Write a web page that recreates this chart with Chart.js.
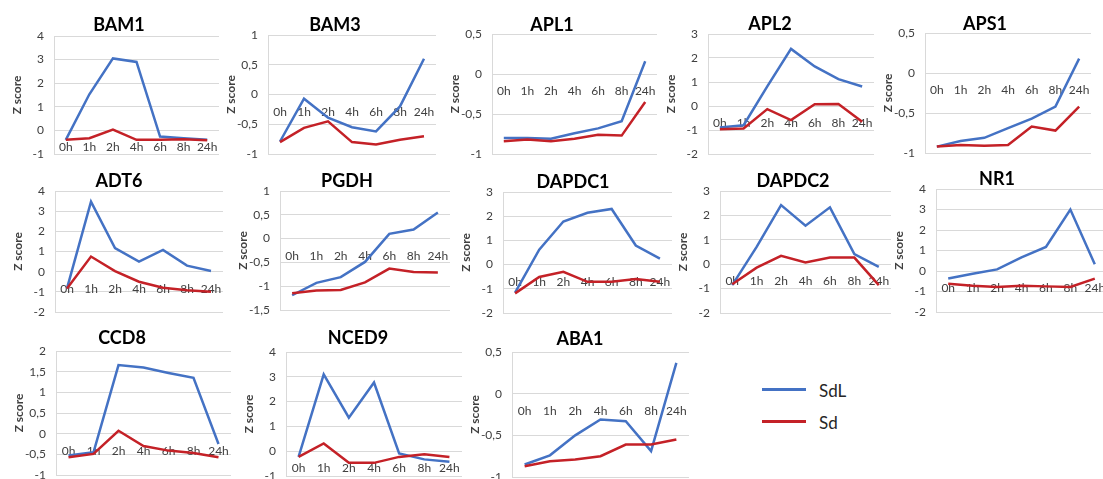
<!DOCTYPE html>
<html>
<head>
<meta charset="utf-8">
<script src="https://cdn.jsdelivr.net/npm/chart.js@4.4.0/dist/chart.umd.min.js"></script>
<style>
  html, body { margin: 0; padding: 0; background: #fff; }
  body { position: relative; width: 1103px; height: 479px; overflow: hidden; font-family: Lato, "Open Sans", sans-serif; }
  canvas.panel { position: absolute; }
  .ttl { position: absolute; transform: translate(-50%, -50%); font-weight: bold; font-size: 18px; color: #000; white-space: nowrap; }
  .key { position: absolute; height: 3px; width: 44px; }
  .keytxt { position: absolute; transform: translateY(-50%); font-size: 17px; color: #262626; }
</style>
</head>
<body>
<script>
// Sampling times (x categories)
const timePoints = ['0h', '1h', '2h', '4h', '6h', '8h', '24h'];

// Z scores per gene: SdL (blue) and Sd (red)
const BAM1_SdL   = [-0.40, 1.53, 3.05, 2.90, -0.26, -0.33, -0.40];
const BAM1_Sd    = [-0.40, -0.33, 0.03, -0.40, -0.40, -0.38, -0.42];
const BAM3_SdL   = [-0.79, -0.07, -0.39, -0.55, -0.62, -0.20, 0.60];
const BAM3_Sd    = [-0.80, -0.56, -0.45, -0.80, -0.84, -0.76, -0.70];
const APL1_SdL   = [-0.80, -0.80, -0.81, -0.74, -0.68, -0.59, 0.16];
const APL1_Sd    = [-0.84, -0.82, -0.84, -0.81, -0.76, -0.77, -0.35];
const APL2_SdL   = [-0.90, -0.80, 0.82, 2.38, 1.65, 1.12, 0.81];
const APL2_Sd    = [-0.97, -0.94, -0.13, -0.59, 0.07, 0.08, -0.66];
const APS1_SdL   = [-0.92, -0.85, -0.81, -0.69, -0.57, -0.42, 0.18];
const APS1_Sd    = [-0.92, -0.90, -0.91, -0.90, -0.67, -0.72, -0.42];
const ADT6_SdL   = [-0.83, 3.47, 1.17, 0.50, 1.08, 0.30, 0.03];
const ADT6_Sd    = [-0.83, 0.75, 0.03, -0.50, -0.80, -0.92, -1.00];
const PGDH_SdL   = [-1.19, -0.93, -0.81, -0.49, 0.10, 0.19, 0.55];
const PGDH_Sd    = [-1.15, -1.09, -1.08, -0.92, -0.63, -0.70, -0.71];
const DAPDC1_SdL = [-1.16, 0.62, 1.78, 2.14, 2.30, 0.79, 0.25];
const DAPDC1_Sd  = [-1.19, -0.51, -0.30, -0.71, -0.71, -0.60, -0.71];
const DAPDC2_SdL = [-0.86, 0.71, 2.42, 1.58, 2.33, 0.41, -0.11];
const DAPDC2_Sd  = [-0.82, -0.14, 0.34, 0.07, 0.27, 0.27, -0.86];
const NR1_SdL    = [-0.37, -0.13, 0.08, 0.67, 1.17, 3.00, 0.33];
const NR1_Sd     = [-0.62, -0.72, -0.78, -0.72, -0.75, -0.78, -0.37];
const CCD8_SdL   = [-0.53, -0.45, 1.66, 1.60, 1.47, 1.35, -0.25];
const CCD8_Sd    = [-0.57, -0.49, 0.07, -0.30, -0.41, -0.47, -0.57];
const NCED9_SdL  = [-0.23, 3.10, 1.35, 2.77, -0.09, -0.33, -0.43];
const NCED9_Sd   = [-0.23, 0.31, -0.47, -0.47, -0.23, -0.12, -0.23];
const ABA1_SdL   = [-0.85, -0.74, -0.50, -0.31, -0.33, -0.69, 0.37];
const ABA1_Sd    = [-0.87, -0.81, -0.79, -0.75, -0.61, -0.61, -0.55];

const geneNames = ['BAM1', 'BAM3', 'APL1', 'APL2', 'APS1', 'ADT6', 'PGDH', 'DAPDC1', 'DAPDC2', 'NR1', 'CCD8', 'NCED9', 'ABA1'];
const sdlSeries = [BAM1_SdL, BAM3_SdL, APL1_SdL, APL2_SdL, APS1_SdL, ADT6_SdL, PGDH_SdL, DAPDC1_SdL, DAPDC2_SdL, NR1_SdL, CCD8_SdL, NCED9_SdL, ABA1_SdL];
const sdSeries  = [BAM1_Sd, BAM3_Sd, APL1_Sd, APL2_Sd, APS1_Sd, ADT6_Sd, PGDH_Sd, DAPDC1_Sd, DAPDC2_Sd, NR1_Sd, CCD8_Sd, NCED9_Sd, ABA1_Sd];

// Y axis ticks per gene
const yMin  = [-1, -1, -1, -2, -1, -2, -1.5, -2, -2, -2, -1, -1, -1];
const yMax  = [4, 1, 0.5, 3, 0.5, 4, 1, 3, 3, 4, 2, 4, 0.5];
const yStep = [1, 0.5, 0.5, 1, 0.5, 1, 0.5, 1, 1, 1, 0.5, 1, 0.5];

const seriesNames = ['SdL', 'Sd'];

// Plot-area boxes [left, top, right, bottom] and title centres
const plotBoxes = [
  [54, 36, 219, 154], [268, 35, 436, 154], [492, 34, 657, 154], [708, 34, 874, 154], [925, 33, 1091, 153],
  [55, 191, 223, 312], [280, 191, 450, 310], [503, 192, 672, 313], [720, 191, 891, 313], [936, 189, 1107, 312],
  [56, 351, 231, 475], [286, 352, 462, 476], [512, 352, 689, 477]
];
const titleCentres = [
  [119, 24], [335, 24], [552, 24], [770, 23], [985, 23],
  [119, 180], [347, 180], [573, 181], [793, 180], [997, 178],
  [122, 337], [358, 337], [580, 338]
];

const BLUE = '#4472C4';
const RED = '#C42127';
const GRID = '#D9D9D9';
const TICK = '#404040';
const FONT = 'Lato, "Open Sans", sans-serif';
const AXIS_W = 50;   // width reserved for y tick labels and axis title
const PAD_V = 22;    // canvas margin above/below the plot area
const PAD_R = 12;    // canvas margin right of the plot area

Chart.defaults.font.family = FONT;

geneNames.forEach((name, i) => {
  const [l, t, r, b] = plotBoxes[i];
  const cv = document.createElement('canvas');
  cv.className = 'panel';
  const w = (r - l) + AXIS_W + PAD_R;
  const h = (b - t) + 2 * PAD_V;
  cv.width = w; cv.height = h;
  cv.style.width = w + 'px'; cv.style.height = h + 'px';
  cv.style.left = (l - AXIS_W) + 'px';
  cv.style.top = (t - PAD_V) + 'px';
  document.body.appendChild(cv);

  const ttl = document.createElement('div');
  ttl.className = 'ttl';
  ttl.textContent = name;
  ttl.style.left = titleCentres[i][0] + 'px';
  ttl.style.top = titleCentres[i][1] + 'px';
  document.body.appendChild(ttl);

  new Chart(cv, {
    type: 'line',
    data: {
      labels: timePoints,
      datasets: [
        { label: seriesNames[0], data: sdlSeries[i], borderColor: BLUE, borderWidth: 2.5, pointRadius: 0, tension: 0, fill: false, order: 2 },
        { label: seriesNames[1], data: sdSeries[i], borderColor: RED, borderWidth: 2.5, pointRadius: 0, tension: 0, fill: false, order: 1 }
      ]
    },
    options: {
      responsive: false,
      animation: false,
      devicePixelRatio: 1,
      layout: { padding: { left: 0, top: PAD_V, right: PAD_R, bottom: PAD_V } },
      plugins: { legend: { display: false }, tooltip: { enabled: false }, title: { display: false } },
      scales: {
        x: {
          type: 'category',
          position: { y: 0 },
          offset: true,
          grid: { display: false, drawTicks: false },
          border: { display: false },
          ticks: { color: TICK, font: { size: 12 }, padding: 10, maxRotation: 0, autoSkip: false }
        },
        y: {
          min: yMin[i],
          max: yMax[i],
          grid: { color: GRID, lineWidth: 1, drawTicks: false },
          border: { display: true, color: GRID, width: 1 },
          ticks: {
            stepSize: yStep[i],
            color: TICK,
            font: { size: 12 },
            padding: 10,
            callback: v => String(v).replace('.', ',')
          },
          title: { display: true, text: 'Z score', color: TICK, font: { size: 12, weight: 'bold' }, padding: { top: 6, bottom: 0 } },
          afterFit: s => { s.width = AXIS_W; }
        }
      }
    }
  });
});

// Series key
[[BLUE, 389, seriesNames[0]], [RED, 421, seriesNames[1]]].forEach(([c, y, txt]) => {
  const ln = document.createElement('div');
  ln.className = 'key';
  ln.style.background = c;
  ln.style.left = '762px';
  ln.style.top = (y - 1) + 'px';
  document.body.appendChild(ln);
  const tx = document.createElement('div');
  tx.className = 'keytxt';
  tx.textContent = txt;
  tx.style.left = '819px';
  tx.style.top = (y + 1) + 'px';
  document.body.appendChild(tx);
});
</script>
</body>
</html>
